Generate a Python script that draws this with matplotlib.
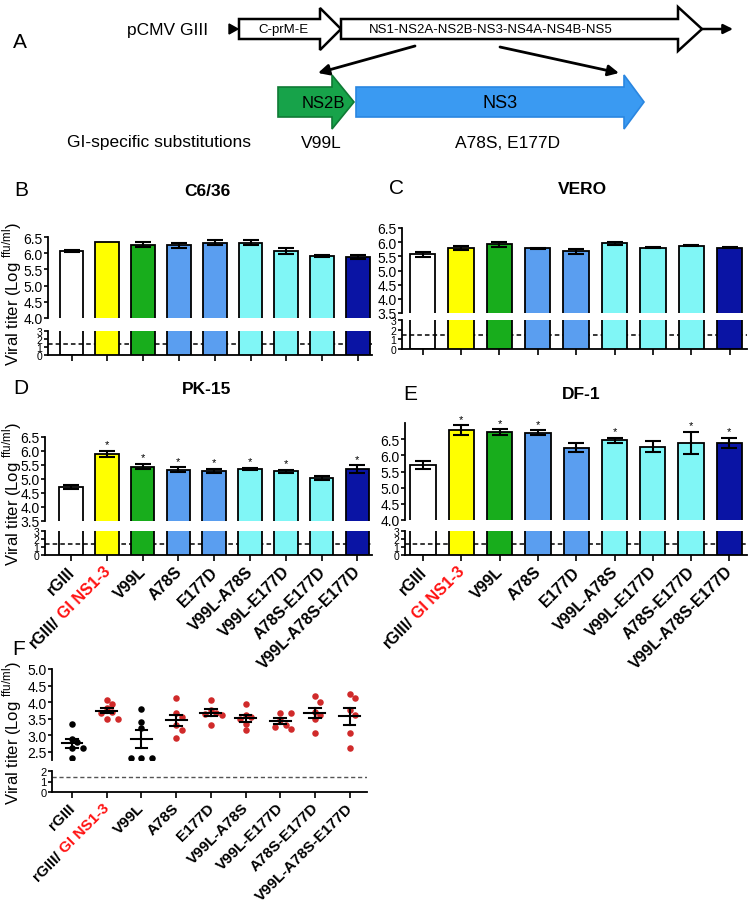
import numpy as np
import matplotlib
matplotlib.use('Agg')
import matplotlib.pyplot as plt
from matplotlib.patches import Polygon

W, H, DPI = 750, 904, 100

# ---------------- data ----------------
categories = ['rGIII', 'rGIII/ GI NS1-3', 'V99L', 'A78S', 'E177D',
              'V99L-A78S', 'V99L-E177D', 'A78S-E177D', 'V99L-A78S-E177D']
bar_colors = ['none', '#ffff00', '#18ad1c', '#5a9ef0', '#5a9ef0',
              '#80f6f6', '#80f6f6', '#80f6f6', '#0a14a4']

c636_mean = [6.07, 6.35, 6.26, 6.25, 6.33, 6.33, 6.07, 5.91, 5.88]
c636_err = [0.04, 0.0, 0.08, 0.08, 0.09, 0.09, 0.09, 0.03, 0.06]

vero_mean = [5.57, 5.79, 5.92, 5.78, 5.68, 5.96, 5.81, 5.88, 5.81]
vero_err = [0.09, 0.07, 0.09, 0.01, 0.08, 0.05, 0.03, 0.03, 0.01]

pk15_mean = [4.72, 5.90, 5.44, 5.33, 5.30, 5.36, 5.27, 5.04, 5.36]
pk15_err = [0.07, 0.11, 0.10, 0.09, 0.07, 0.05, 0.06, 0.07, 0.14]
pk15_sig = [0, 1, 1, 1, 1, 1, 1, 0, 1]

df1_mean = [5.70, 6.78, 6.71, 6.70, 6.23, 6.46, 6.27, 6.39, 6.39]
df1_err = [0.13, 0.15, 0.09, 0.08, 0.14, 0.09, 0.16, 0.34, 0.16]
df1_sig = [0, 1, 1, 1, 0, 1, 0, 1, 1]

detection_limit = 1.4

mouse_titers = [
    [3.33, 2.88, 2.78, 2.62, 2.60, 2.30],
    [4.07, 3.93, 3.82, 3.70, 3.67, 3.50, 3.50],
    [3.78, 3.40, 3.22, 2.30, 2.30, 2.30],
    [4.12, 3.67, 3.55, 3.30, 3.15, 2.90],
    [4.07, 3.75, 3.68, 3.65, 3.60, 3.30],
    [3.93, 3.62, 3.55, 3.50, 3.35, 3.15],
    [3.67, 3.68, 3.47, 3.30, 3.25, 3.20],
    [4.17, 4.00, 3.70, 3.62, 3.50, 3.07],
    [4.25, 4.12, 3.75, 3.62, 3.07, 2.60],
]
mouse_colors = ['black', '#d02a2a', 'black', '#d02a2a', '#d02a2a',
                '#d02a2a', '#d02a2a', '#d02a2a', '#d02a2a']

# ---------------- style ----------------
plt.rcParams['font.family'] = ['Liberation Sans', 'DejaVu Sans']
plt.rcParams['mathtext.fontset'] = 'custom'
plt.rcParams['mathtext.rm'] = 'Liberation Sans'
plt.rcParams['axes.linewidth'] = 1.3
plt.rcParams['xtick.major.width'] = 1.2
plt.rcParams['ytick.major.width'] = 1.2
plt.rcParams['xtick.major.size'] = 4
plt.rcParams['ytick.major.size'] = 3

fig = plt.figure(figsize=(W / DPI, H / DPI), dpi=DPI)
renderer = fig.canvas.get_renderer()


def rect(l, t, r, b):
    return [l / W, 1 - b / H, (r - l) / W, (b - t) / H]


ov = fig.add_axes([0, 0, 1, 1])
ov.set_xlim(0, W)
ov.set_ylim(H, 0)
ov.axis('off')
ov.patch.set_alpha(0)

YLAB = 'Viral titer (Log $^{\\mathregular{ffu/ml}}$)'

# ---------------- panel A (schematic) ----------------
def arrow_poly(x0, xb, xt, yc, hb, hh, fc, ec, lw):
    pts = [(x0, yc - hb), (xb, yc - hb), (xb, yc - hh), (xt, yc),
           (xb, yc + hh), (xb, yc + hb), (x0, yc + hb)]
    ov.add_patch(Polygon(pts, closed=True, facecolor=fc, edgecolor=ec,
                         linewidth=lw, joinstyle='miter'))

ov.text(20, 42, 'A', fontsize=15, ha='center', va='center')
ov.text(168, 31, 'pCMV GIII', fontsize=12.5, ha='center', va='center')
ov.add_patch(Polygon([(229, 25), (238, 30), (229, 35)], closed=True,
                     facecolor='black', edgecolor='black'))
arrow_poly(239, 320, 341, 30, 10, 21, 'white', 'black', 1.8)
arrow_poly(341, 678, 702, 30, 10, 22, 'white', 'black', 1.8)
ov.annotate('', xy=(733, 30), xytext=(702, 30),
            arrowprops=dict(arrowstyle='-|>', color='black', lw=1.8,
                            mutation_scale=14, shrinkA=0, shrinkB=0))
ov.text(283, 30, 'C-prM-E', fontsize=9.5, ha='center', va='center')
ov.text(491, 30, 'NS1-NS2A-NS2B-NS3-NS4A-NS4B-NS5', fontsize=9.5,
        ha='center', va='center')
ov.annotate('', xy=(318, 74), xytext=(415, 47),
            arrowprops=dict(arrowstyle='-|>', color='black', lw=2,
                            mutation_scale=16, shrinkA=0, shrinkB=0))
ov.annotate('', xy=(619, 74), xytext=(500, 48),
            arrowprops=dict(arrowstyle='-|>', color='black', lw=2,
                            mutation_scale=16, shrinkA=0, shrinkB=0))
arrow_poly(278, 332, 354, 103, 15, 27, '#17a34a', '#0f7a35', 1.2)
arrow_poly(356, 624, 644, 103, 15, 27, '#3a9af2', '#2a86e0', 1.2)
ov.text(323, 103, 'NS2B', fontsize=12, ha='center', va='center')
ov.text(500, 103, 'NS3', fontsize=13, ha='center', va='center')
ov.text(67, 143, 'GI-specific substitutions', fontsize=12.5, ha='left', va='center')
ov.text(321, 143, 'V99L', fontsize=12.5, ha='center', va='center')
ov.text(508, 143, 'A78S, E177D', fontsize=12.5, ha='center', va='center')


# ---------------- helpers ----------------
def text_width(s, fs, weight='bold'):
    t = fig.text(0, 0, s, fontsize=fs, fontweight=weight)
    w = t.get_window_extent(renderer=renderer).width
    t.remove()
    return w


def rotated_labels(ax, fs, dx=-3, dy=-6):
    c = np.cos(np.radians(45))
    for i, lab in enumerate(categories):
        kw = dict(xycoords=('data', 'axes fraction'), textcoords='offset points',
                  rotation=45, ha='right', va='top', rotation_mode='anchor',
                  fontsize=fs, fontweight='bold')
        if '/ ' in lab:
            pre, suf = lab.split('/ ')
            pre = pre + '/'
            d = (text_width(lab, fs) - text_width(pre, fs)) * 72.0 / DPI
            ax.annotate(suf, xy=(i, 0), xytext=(dx, dy), color='#ff1010', **kw)
            ax.annotate(pre, xy=(i, 0), xytext=(dx - d * c, dy - d * c),
                        color='black', **kw)
        else:
            ax.annotate(lab, xy=(i, 0), xytext=(dx, dy), color='black', **kw)


def bar_panel(l, r, c0, s, up, lo, ylim_up, yticks_up, means, errs, sig=None,
              labels=False):
    xl = (-(c0 - l) / s, (r - c0) / s)
    ax_u = fig.add_axes(rect(l, up[0], r, up[1]))
    ax_l = fig.add_axes(rect(l, lo[0], r, lo[1]))
    x = np.arange(len(categories))
    for ax in (ax_u, ax_l):
        ax.patch.set_alpha(0)
        ax.bar(x, means, width=0.66, color=bar_colors, edgecolor='black',
               linewidth=1.3, zorder=3)
        ax.set_xlim(*xl)
        for sp in ('top', 'right'):
            ax.spines[sp].set_visible(False)
    ax_l.axhline(detection_limit, color='black', lw=1.1, ls=(0, (3, 2)), zorder=2)
    ax_u.spines['bottom'].set_visible(False)
    ax_u.set_xticks([])
    ax_u.set_ylim(*ylim_up)
    ax_u.set_yticks(yticks_up)
    ax_u.set_yticklabels(['%.1f' % v for v in yticks_up], fontsize=10)
    ax_u.tick_params(axis='y', pad=1)
    ax_l.set_ylim(0, 3)
    ax_l.set_yticks([0, 1, 2, 3])
    ax_l.set_yticklabels(['0', '1', '2', '3'], fontsize=7.5)
    ax_l.tick_params(axis='y', pad=1, length=3)
    ax_l.set_xticks(x)
    ax_l.set_xticklabels([])
    m = np.array(means)
    e = np.array(errs)
    keep = e > 0
    ax_u.errorbar(x[keep], m[keep], yerr=e[keep], fmt='none', ecolor='black',
                  elinewidth=1.5, capsize=5.5, capthick=1.5, zorder=4)
    if sig is not None:
        for i in range(len(categories)):
            if sig[i]:
                ax_u.annotate('*', xy=(i, m[i] + e[i]), xytext=(0, 1),
                              textcoords='offset points', ha='center',
                              va='bottom', fontsize=8, annotation_clip=False)
    if labels:
        rotated_labels(ax_l, 11.5)
    return ax_u, ax_l


up_ticks_a = [4.0, 4.5, 5.0, 5.5, 6.0, 6.5]
up_ticks_b = [3.5, 4.0, 4.5, 5.0, 5.5, 6.0, 6.5]

# B  C6/36
bar_panel(48, 372, 71.5, 35.8, (238, 319), (332, 356), (4.0, 6.5), up_ticks_a,
          c636_mean, c636_err)
ov.text(21, 190, 'B', fontsize=15, ha='center', va='center')
ov.text(207, 191, 'C6/36', fontsize=12.5, fontweight='bold', ha='center', va='center')
ov.text(12, 294, YLAB, fontsize=12, rotation=90, ha='center', va='center')

# C  VERO
bar_panel(402, 747, 422.5, 38.4, (229, 314), (321, 350), (3.5, 6.5), up_ticks_b,
          vero_mean, vero_err)
ov.text(396, 188, 'C', fontsize=15, ha='center', va='center')
ov.text(582, 190, 'VERO', fontsize=12.5, fontweight='bold', ha='center', va='center')

# D  PK-15
bar_panel(45, 372, 71, 35.8, (438, 522), (532, 556), (3.5, 6.5), up_ticks_b,
          pk15_mean, pk15_err, sig=pk15_sig, labels=True)
ov.text(21, 389, 'D', fontsize=15, ha='center', va='center')
ov.text(207, 390, 'PK-15', fontsize=12.5, fontweight='bold', ha='center', va='center')
ov.text(12, 494, YLAB, fontsize=12, rotation=90, ha='center', va='center')

# E  DF-1
bar_panel(405, 747, 423, 38.3, (424, 521), (532, 556), (4.0, 7.0), up_ticks_a,
          df1_mean, df1_err, sig=df1_sig, labels=True)
ov.text(410, 395, 'E', fontsize=15, ha='center', va='center')
ov.text(581, 395, 'DF-1', fontsize=12.5, fontweight='bold', ha='center', va='center')

# ---------------- F (scatter) ----------------
fl, fr, fc0, fs_ = 52, 367, 72, 34.7
f_up = (670, 761)
f_lo = (772, 793)
f_ylim = (2.25, 5.0)
axF = fig.add_axes(rect(fl, f_up[0], fr, f_up[1]))
axF2 = fig.add_axes(rect(fl, f_lo[0], fr, f_lo[1]))
fxl = (-(fc0 - fl) / fs_, (fr - fc0) / fs_)
for ax in (axF, axF2):
    ax.patch.set_alpha(0)
    ax.set_xlim(*fxl)
    for sp in ('top', 'right'):
        ax.spines[sp].set_visible(False)
axF.spines['bottom'].set_visible(False)
axF.set_xticks([])
axF.set_ylim(*f_ylim)
ft = [2.5, 3.0, 3.5, 4.0, 4.5, 5.0]
axF.set_yticks(ft)
axF.set_yticklabels(['%.1f' % v for v in ft], fontsize=10)
axF.tick_params(axis='y', pad=1)
axF2.set_ylim(0, 2)
axF2.set_yticks([0, 1, 2])
axF2.set_yticklabels(['0', '1', '2'], fontsize=8)
axF2.tick_params(axis='y', pad=1, length=3)
axF2.set_xticks(np.arange(len(categories)))
axF2.set_xticklabels([])
axF2.axhline(detection_limit, color='#555555', lw=1.0, ls=(0, (3, 2)))

# simple swarm placement (pixel based)
px_per_y = (f_up[1] - f_up[0]) / (f_ylim[1] - f_ylim[0])
diam = 6.0
for i, vals in enumerate(mouse_titers):
    placed = []
    order = np.argsort(vals)[::-1]
    xo = np.zeros(len(vals))
    for k in order:
        yk = vals[k] * px_per_y
        for cand in [0, 1, -1, 2, -2, 3, -3]:
            xc = cand * diam * 0.9
            ok = all((xc - px) ** 2 + (yk - py) ** 2 >= (diam * 0.95) ** 2 for px, py in placed)
            if ok:
                placed.append((xc, yk))
                xo[k] = xc
                break
    axF.scatter(i + xo / fs_, vals, s=22, color=mouse_colors[i], zorder=3,
                linewidths=0)
    v = np.array(vals)
    mu = v.mean()
    sem = v.std(ddof=1) / np.sqrt(len(v))
    axF.plot([i - 0.3, i + 0.3], [mu, mu], color='black', lw=1.5, zorder=4)
    axF.plot([i, i], [mu - sem, mu + sem], color='black', lw=1.5, zorder=4)
    for yy in (mu - sem, mu + sem):
        axF.plot([i - 0.17, i + 0.17], [yy, yy], color='black', lw=1.5, zorder=4)

rotated_labels(axF2, 11, dx=-3, dy=-6)
ov.text(19, 650, 'F', fontsize=15, ha='center', va='center')
ov.text(12, 733, YLAB, fontsize=12, rotation=90, ha='center', va='center')

fig.savefig('out.png', dpi=DPI)
